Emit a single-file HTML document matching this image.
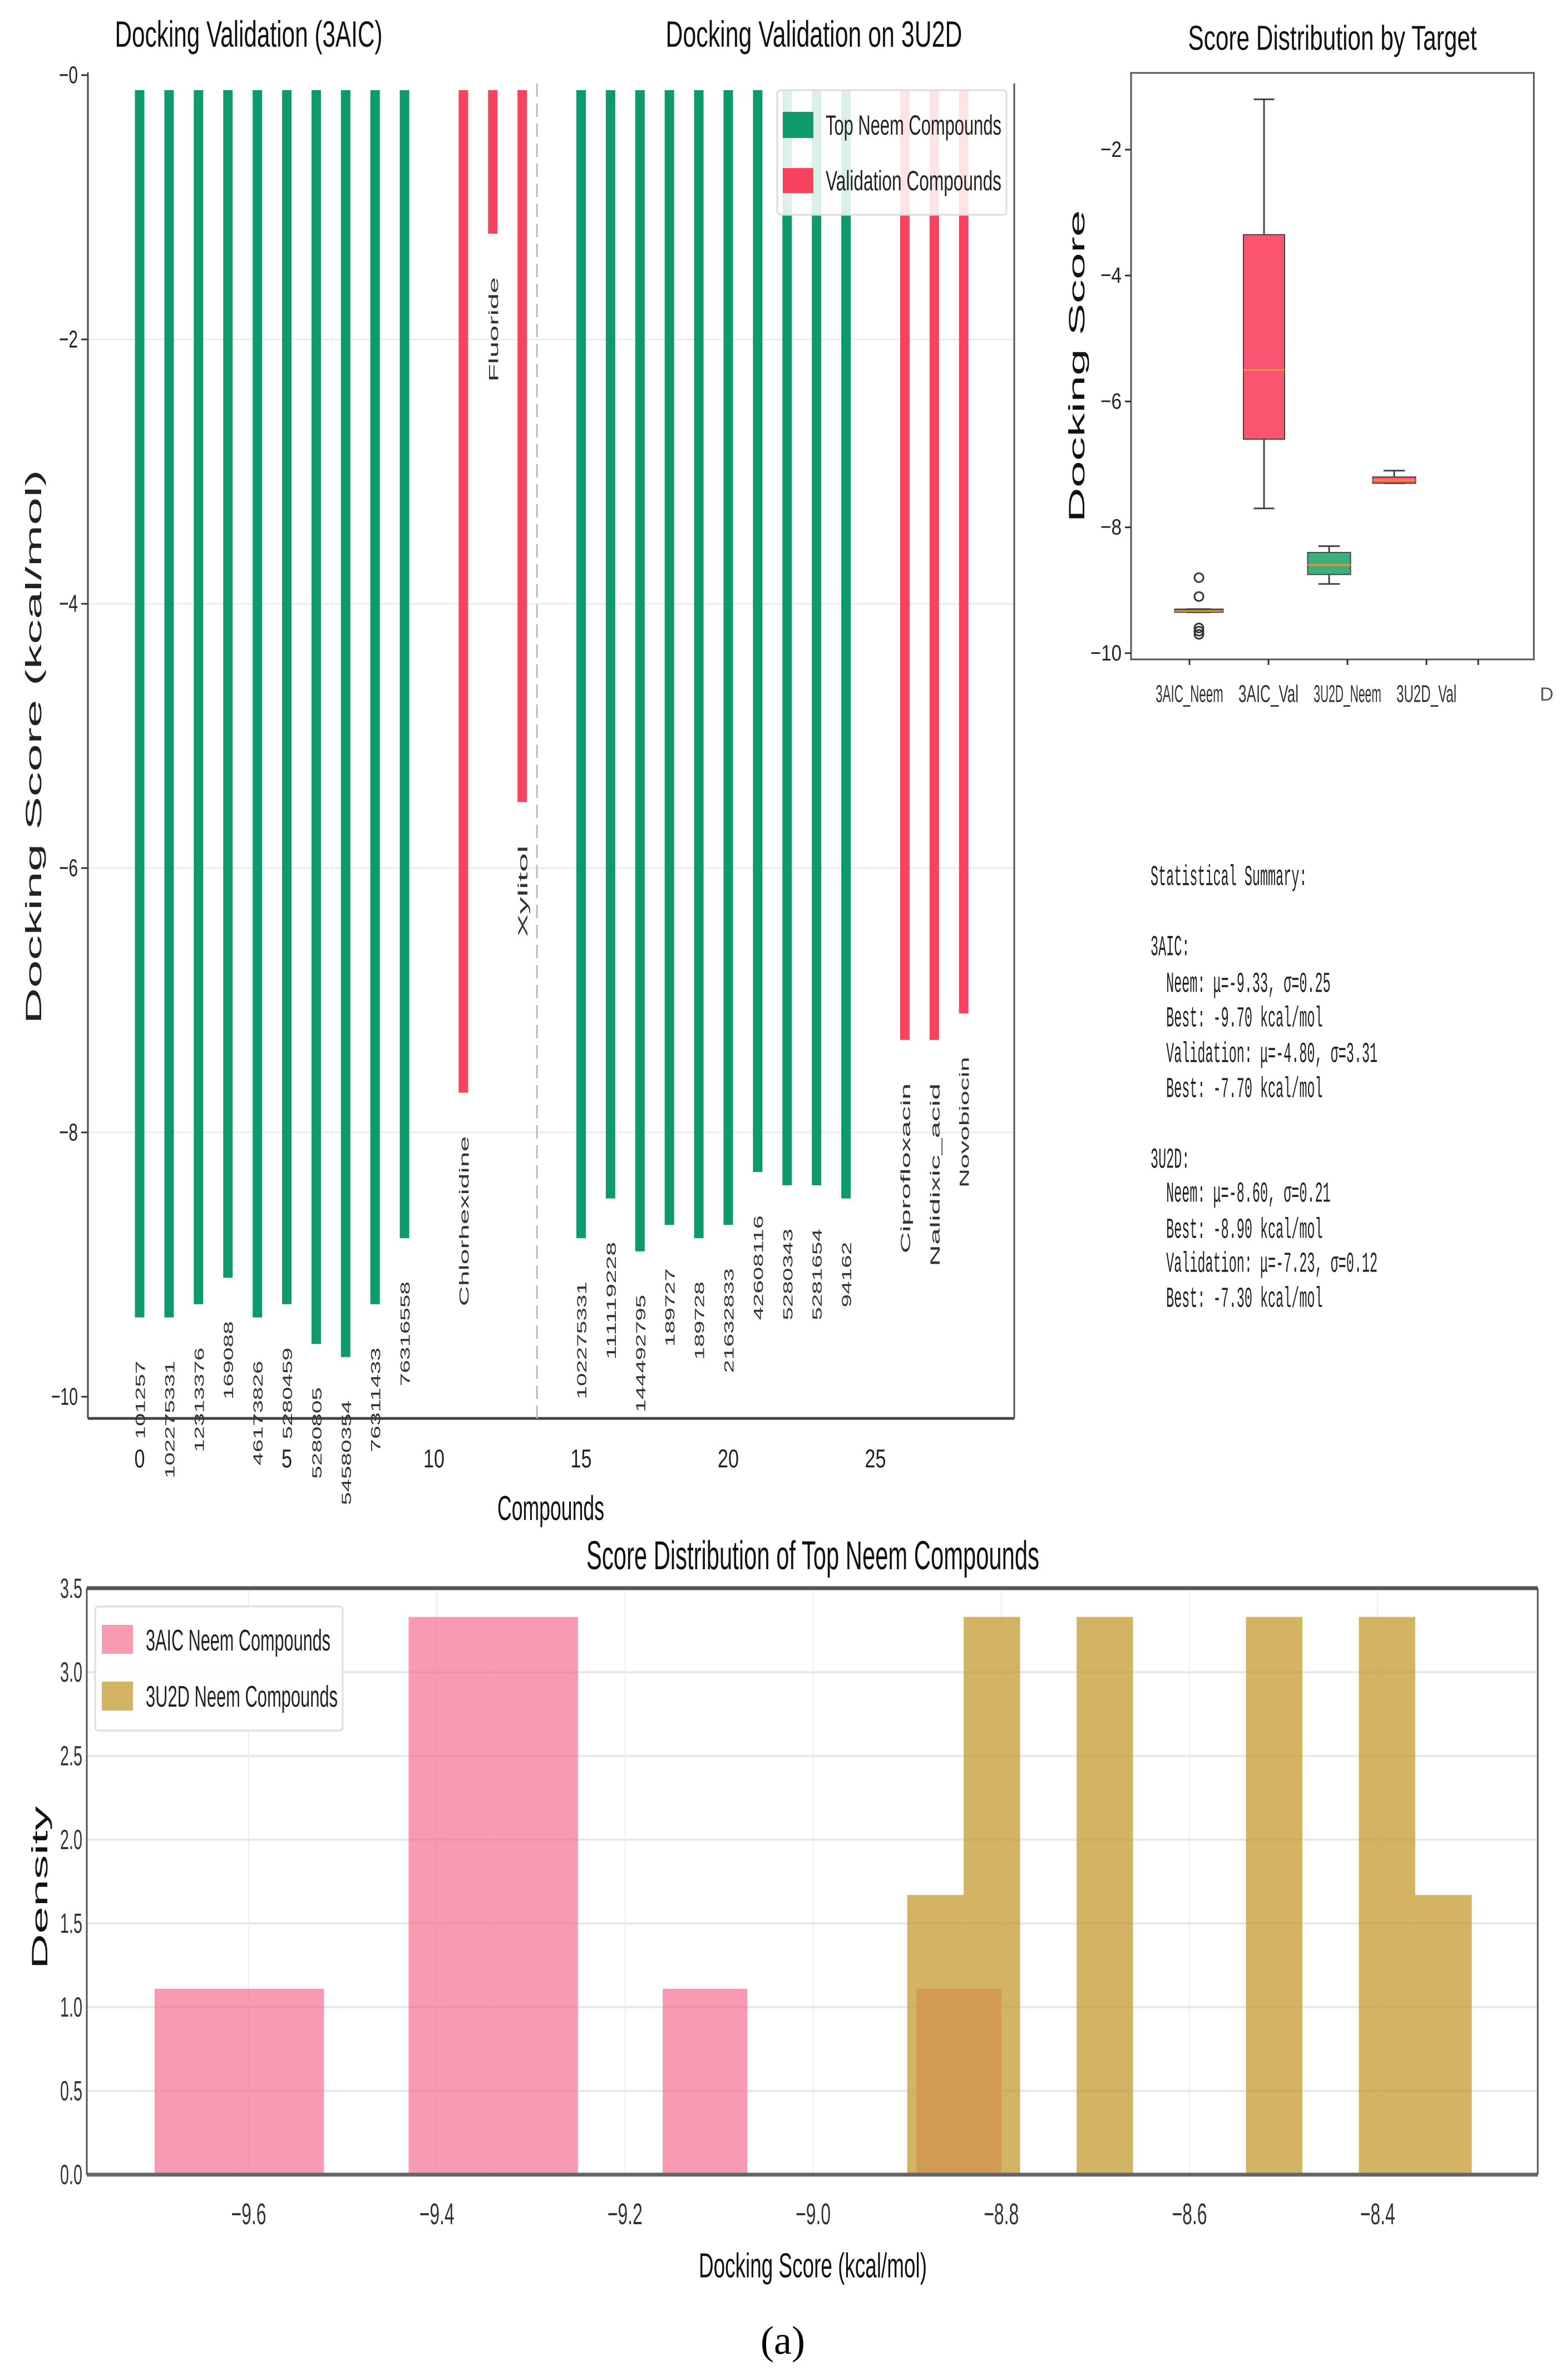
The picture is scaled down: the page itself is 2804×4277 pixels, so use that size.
<!DOCTYPE html>
<html><head><meta charset="utf-8"><style>
html,body{margin:0;padding:0;background:#fff;}
svg{display:block;}
</style></head>
<body>
<svg id="fig" xmlns="http://www.w3.org/2000/svg" width="2804" height="4277" viewBox="0 0 2804 4277">
<rect x="0" y="0" width="2804" height="4277" fill="#fff"/>
<g id="top"></g>
<g id="box"></g>
<g id="stats"></g>
<g id="hist"></g>
</svg>
<script>
// ---------- data: top bar chart ----------
const barLabels = ["101257","102275331","12313376","169088","46173826","5280459","5280805","54580354","76311433","76316558","Chlorhexidine","Fluoride","Xylitol","102275331","111119228","144492795","189727","189728","21632833","42608116","5280343","5281654","94162","Ciprofloxacin","Nalidixic_acid","Novobiocin"];
const barIndex = [0,1,2,3,4,5,6,7,8,9,11,12,13,15,16,17,18,19,20,21,22,23,24,26,27,28];
const barValues = [-9.4,-9.4,-9.3,-9.1,-9.4,-9.3,-9.6,-9.7,-9.3,-8.8,-7.7,-1.2,-5.5,-8.8,-8.5,-8.9,-8.7,-8.8,-8.7,-8.3,-8.4,-8.4,-8.5,-7.3,-7.3,-7.1];
const barType = ["n","n","n","n","n","n","n","n","n","n","v","v","v","n","n","n","n","n","n","n","n","n","n","v","v","v"];
const topYTicks = [0,-2,-4,-6,-8,-10];
const topXTicks = [0,5,10,15,20,25];
// ---------- data: boxplot ----------
const boxCats = ["3AIC_Neem","3AIC_Val","3U2D_Neem","3U2D_Val"];
const boxQ1 = [-9.35,-6.6,-8.75,-7.3];
const boxQ3 = [-9.3,-3.35,-8.4,-7.2];
const boxMed = [-9.33,-5.5,-8.6,-7.25];
const boxLo = [-9.35,-7.7,-8.9,-7.3];
const boxHi = [-9.3,-1.2,-8.3,-7.1];
const boxOutliers = [[-8.8,-9.1,-9.6,-9.65,-9.7],[],[],[]];
const boxYTicks = [-2,-4,-6,-8,-10];
// ---------- data: histogram ----------
const histA_start = -9.7, histA_width = 0.09;
const histA_density = [1.11,1.11,0,3.33,3.33,0,1.11,0,0,1.11];
const histB_start = -8.9, histB_width = 0.06;
const histB_density = [1.67,3.33,0,3.33,0,0,3.33,0,3.33,1.67];
const histXTicks = [-9.6,-9.4,-9.2,-9.0,-8.8,-8.6,-8.4];
const histYTicks = [0,0.5,1.0,1.5,2.0,2.5,3.0,3.5];

const NS="http://www.w3.org/2000/svg";
function mk(parent,tag,attrs,name){
  const el=document.createElementNS(NS,tag);
  for(const k in attrs) el.setAttribute(k,attrs[k]);
  
  
  parent.appendChild(el);return el;
}
function txt(parent,x,y,s,size,o,name){
  o=o||{};
  const a={x:0,y:0,'font-size':size,'font-family':o.fam||'"Liberation Sans", "DejaVu Sans", sans-serif',fill:o.fill||'#222','text-anchor':o.anchor||'middle','dominant-baseline':o.base||'central'};
  if(o.len){a.textLength=o.len;a.lengthAdjust='spacingAndGlyphs';}
  a.transform=`translate(${x},${y})`+(o.rot?` rotate(${o.rot})`:'');
  const el=mk(parent,'text',a,name);el.textContent=s;return el;
}
// ---------- TOP CHART ----------
const T=document.getElementById('top');
const xT=i=>251+i*52.9, yT=v=>135-v*237.5;
topYTicks.forEach(v=>{
  if(v!==0&&v!==-10) mk(T,'line',{x1:158,x2:1823,y1:yT(v),y2:yT(v),stroke:'#ebebeb','stroke-width':3},'grid-line');
  mk(T,'line',{x1:146,x2:158,y1:yT(v),y2:yT(v),stroke:'#333','stroke-width':3},'y-tick');
  txt(T,140,yT(v),(v===0?'\u22120':'\u2212'+Math.abs(v)),44,{anchor:'end',len:v===-10?48:34},'y-tick-label');
});
mk(T,'line',{x1:158,x2:158,y1:130,y2:2549,stroke:'#444','stroke-width':3},'y-axis');
mk(T,'line',{x1:1823,x2:1823,y1:150,y2:2549,stroke:'#555','stroke-width':3},'right-spine');
mk(T,'line',{x1:158,x2:1823,y1:2549,y2:2549,stroke:'#444','stroke-width':5},'x-axis');
mk(T,'line',{x1:xT(13.5),x2:xT(13.5),y1:150,y2:2549,stroke:'#bbb','stroke-width':3,'stroke-dasharray':'24,12'},'divider-line');
topXTicks.forEach(v=>{
  txt(T,xT(v),2621,String(v),46,{len:String(v).length*19},'x-tick-label');
});
barValues.forEach((v,k)=>{
  const cx=xT(barIndex[k]);
  mk(T,'rect',{x:cx-8.5,y:yT(0)+27,width:17,height:Math.max(0,yT(v)-yT(0)-27),fill:barType[k]==='n'?'#0f9a6e':'#f7435f'},'bar-'+barLabels[k].toLowerCase());
  const L=barLabels[k];
  txt(T,cx+2,yT(v)+78,L,24,{anchor:'end',rot:-90,len:L.length*23.5,fill:'#333'},'bar-label');
});
txt(T,447,61,'Docking Validation (3AIC)',66,{len:481,fill:'#111'},'left-title');
txt(T,1463,61,'Docking Validation on 3U2D',66,{len:533,fill:'#111'},'right-title');
txt(T,61,1342,'Docking Score (kcal/mol)',40,{rot:-90,len:996,fill:'#222'},'y-axis-title');
txt(T,990,2711,'Compounds',62,{len:192,fill:'#111'},'x-axis-title');
mk(T,'rect',{x:1397,y:162,width:412,height:224,fill:'rgba(255,255,255,0.85)',stroke:'#ddd','stroke-width':3,rx:6},'legend');
mk(T,'rect',{x:1407,y:201,width:55,height:47,fill:'#0f9a6e'},'legend-swatch-neem');
mk(T,'rect',{x:1407,y:302,width:55,height:45,fill:'#f7435f'},'legend-swatch-validation');
txt(T,1484,225,'Top Neem Compounds',50,{anchor:'start',len:316,fill:'#222'},'legend-entry-neem');
txt(T,1484,325,'Validation Compounds',50,{anchor:'start',len:316,fill:'#222'},'legend-entry-validation');
// ---------- BOX PLOT ----------
const B=document.getElementById('box');
const xB=k=>2155+k*117, yB=v=>269+(-2-v)*113.1, xBL=k=>2138+k*142;
mk(B,'rect',{x:2033,y:131,width:724,height:1054,fill:'none',stroke:'#555','stroke-width':3},'box-frame');
boxYTicks.forEach(v=>{
  mk(B,'line',{x1:2022,x2:2033,y1:yB(v),y2:yB(v),stroke:'#333','stroke-width':3},'y-tick');
  txt(B,2016,yB(v),'\u2212'+Math.abs(v),40,{anchor:'end',len:v===-10?56:38},'y-tick-label');
});
txt(B,2395,69,'Score Distribution by Target',62,{len:519,fill:'#111'},'box-title');
txt(B,1936,658,'Docking Score',40,{rot:-90,len:561,fill:'#111'},'box-y-title');
const boxFill=['#5a4a1a','#fb5470','#3bb07c','#fb5470'];
const boxW=[87,74,77,77];
boxCats.forEach((c,k)=>{
  const cx=xB(k),w=boxW[k];
  mk(B,'line',{x1:cx,x2:cx,y1:yB(boxHi[k]),y2:yB(boxLo[k]),stroke:'#444','stroke-width':3},'whisker');
  mk(B,'line',{x1:cx-w/4,x2:cx+w/4,y1:yB(boxHi[k]),y2:yB(boxHi[k]),stroke:'#444','stroke-width':3},'cap');
  mk(B,'line',{x1:cx-w/4,x2:cx+w/4,y1:yB(boxLo[k]),y2:yB(boxLo[k]),stroke:'#444','stroke-width':3},'cap');
  mk(B,'rect',{x:cx-w/2,y:yB(boxQ3[k]),width:w,height:Math.max(4,yB(boxQ1[k])-yB(boxQ3[k])),fill:boxFill[k],stroke:'#444','stroke-width':2},'box-'+c.toLowerCase());
  mk(B,'line',{x1:cx-w/2,x2:cx+w/2,y1:yB(boxMed[k]),y2:yB(boxMed[k]),stroke:'#e39b3a','stroke-width':3},'median');
  boxOutliers[k].forEach(o=>mk(B,'circle',{cx:cx,cy:yB(o),r:8,fill:'none',stroke:'#333','stroke-width':3},'outlier'));
  mk(B,'line',{x1:xBL(k),x2:xBL(k),y1:1185,y2:1195,stroke:'#333','stroke-width':3},'x-tick');
  txt(B,xBL(k),1247,c,44,{len:c.length*13.5,fill:'#333'},'x-tick-label');
});
mk(B,'line',{x1:2657,x2:2657,y1:1185,y2:1195,stroke:'#333','stroke-width':3},'x-tick');
txt(B,2780,1248,'D',34,{fill:'#555'},'clipped-label');
// ---------- STATS ----------
const S=document.getElementById('stats');
const statLines=[["Statistical Summary:",0,1577],["3AIC:",0,1703],["Neem: \u03bc=-9.33, \u03c3=0.25",2,1769],["Best: -9.70 kcal/mol",2,1831],["Validation: \u03bc=-4.80, \u03c3=3.31",2,1895],["Best: -7.70 kcal/mol",2,1958],["3U2D:",0,2085],["Neem: \u03bc=-8.60, \u03c3=0.21",2,2146],["Best: -8.90 kcal/mol",2,2211],["Validation: \u03bc=-7.23, \u03c3=0.12",2,2272],["Best: -7.30 kcal/mol",2,2335]];
statLines.forEach(l=>{
  txt(S,2068+l[1]*14.07,l[2],l[0],52,{anchor:'start',len:l[0].length*14.07,fam:'"Liberation Mono", "DejaVu Sans Mono", monospace',fill:'#222'},'summary-line');
});
// ---------- HISTOGRAM ----------
const H=document.getElementById('hist');
const xH=v=>447+(v+9.6)*1691, yH=d=>3908-d*301;
histYTicks.forEach(v=>{
  if(v>0&&v<3.5) mk(H,'line',{x1:156,x2:2764,y1:yH(v),y2:yH(v),stroke:'#e8e8e8','stroke-width':4},'grid-line');
  txt(H,148,yH(v),v.toFixed(1),50,{anchor:'end',len:40,fill:'#333'},'y-tick-label');
});
histXTicks.forEach(v=>{
  mk(H,'line',{x1:xH(v),x2:xH(v),y1:2854,y2:3908,stroke:'#eeeeee','stroke-width':2},'grid-line');
  txt(H,xH(v),3979,'\u2212'+Math.abs(v).toFixed(1),54,{len:63,fill:'#333'},'x-tick-label');
});
histA_density.forEach((d,i)=>{
  if(d<=0)return;
  const x0=xH(histA_start+i*histA_width),x1=xH(histA_start+(i+1)*histA_width);
  mk(H,'rect',{x:x0,y:yH(d),width:x1-x0,height:yH(0)-yH(d),fill:'rgba(245,100,135,0.65)'},'bar-3aic');
});
histB_density.forEach((d,i)=>{
  if(d<=0)return;
  const x0=xH(histB_start+i*histB_width),x1=xH(histB_start+(i+1)*histB_width);
  mk(H,'rect',{x:x0,y:yH(d),width:x1-x0,height:yH(0)-yH(d),fill:'rgba(196,155,50,0.75)'},'bar-3u2d');
});
mk(H,'line',{x1:156,x2:2764,y1:2854,y2:2854,stroke:'#555','stroke-width':7},'top-spine');
mk(H,'line',{x1:156,x2:2764,y1:3908,y2:3908,stroke:'#666','stroke-width':7},'x-axis');
mk(H,'line',{x1:156,x2:156,y1:2854,y2:3908,stroke:'#555','stroke-width':3},'y-axis');
mk(H,'line',{x1:2764,x2:2764,y1:2854,y2:3908,stroke:'#555','stroke-width':3},'right-spine');
txt(H,1461,2796,'Score Distribution of Top Neem Compounds',72,{len:814,fill:'#111'},'hist-title');
txt(H,1461,4072,'Docking Score (kcal/mol)',62,{len:410,fill:'#111'},'hist-x-title');
txt(H,72,3392,'Density',40,{rot:-90,len:293,fill:'#111'},'hist-y-title');
mk(H,'rect',{x:171,y:2887,width:445,height:223,fill:'rgba(255,255,255,0.9)',stroke:'#ddd','stroke-width':3,rx:6},'hist-legend');
mk(H,'rect',{x:183,y:2920,width:56,height:52,fill:'rgba(245,100,135,0.65)'},'legend-swatch-3aic');
mk(H,'rect',{x:183,y:3022,width:56,height:52,fill:'rgba(196,155,50,0.75)'},'legend-swatch-3u2d');
txt(H,262,2948,'3AIC Neem Compounds',54,{anchor:'start',len:332,fill:'#222'},'legend-entry-3aic');
txt(H,262,3049,'3U2D Neem Compounds',54,{anchor:'start',len:345,fill:'#222'},'legend-entry-3u2d');
txt(H,1407,4206,'(a)',72,{fam:'"Liberation Serif", serif',fill:'#000'},'panel-label');
</script>
</body></html>
